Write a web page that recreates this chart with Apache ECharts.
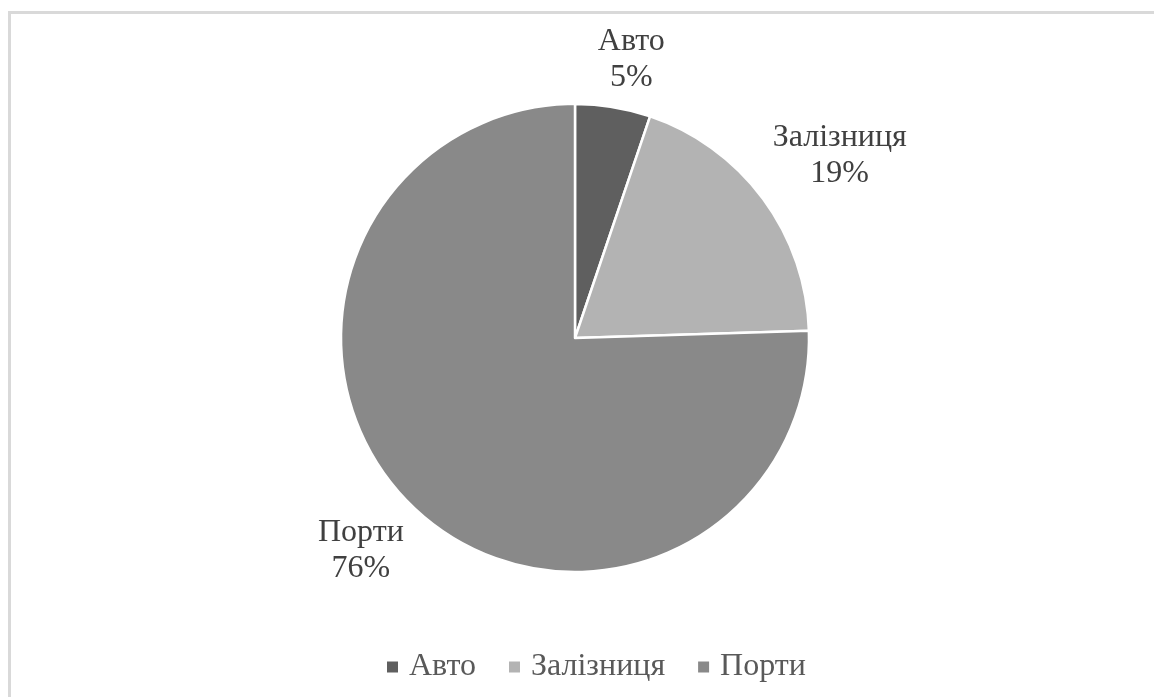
<!DOCTYPE html>
<html><head><meta charset="utf-8">
<script src="https://cdn.jsdelivr.net/npm/echarts@6/dist/echarts.min.js"></script>
<style>html,body{margin:0;padding:0;background:#fff}#c{width:1154px;height:697px}</style>
</head><body><div id="c"></div>
<script>
const categories = ['Авто', 'Залізниця', 'Порти'];
const shares = [5.2, 19.3, 75.5];
const sliceColors = ['#5f5f5f', '#b3b3b3', '#898989'];

const chart = echarts.init(document.getElementById('c'), null, {renderer: 'canvas'});
const CX = 575, CY = 338, R = 234, GAP = 12;
const total = shares.reduce((a, b) => a + b, 0);
const midAngles = [];
let acc = 0;
shares.forEach(v => { midAngles.push((acc + v / 2) / total * 2 * Math.PI); acc += v; });
const clamp1 = v => Math.max(-1, Math.min(1, v));

const option = {
  animation: false,
  graphic: [{
    type: 'rect', silent: true, z: -1,
    shape: {x: 9.5, y: 12.5, width: 1300, height: 900},
    style: {fill: 'none', stroke: '#d9d9d9', lineWidth: 3}
  }],
  legend: {
    top: 646, left: 382, itemWidth: 11, itemHeight: 11, itemGap: 33, icon: 'rect',
    itemStyle: {borderWidth: 0},
    textStyle: {fontFamily: 'Liberation Serif', fontSize: 32, color: '#595959', padding: [0, 0, 0, 6]},
    data: categories
  },
  series: [{
    type: 'pie', center: [CX, CY], radius: R, startAngle: 90, clockwise: true,
    percentPrecision: 0,
    data: categories.map((n, i) => ({name: n, value: shares[i], itemStyle: {color: sliceColors[i]}})),
    itemStyle: {borderColor: '#ffffff', borderWidth: 2.5},
    label: {
      show: true, position: 'outside', formatter: '{b}\n{d}%',
      fontFamily: 'Liberation Serif', fontSize: 32, lineHeight: 36, color: '#404040', align: 'center'
    },
    labelLine: {show: false},
    labelLayout: function (p) {
      const a = midAngles[p.dataIndex];
      const dx = Math.sin(a), dy = -Math.cos(a);
      const px = CX + (R + GAP) * dx, py = CY + (R + GAP) * dy;
      const w = p.labelRect.width, h = p.labelRect.height;
      return {
        x: px + clamp1(dx * 3) * w / 2,
        y: py + clamp1(dy * 3) * h / 2,
        align: 'center', verticalAlign: 'middle'
      };
    },
    emphasis: {disabled: true}
  }]
};
chart.setOption(option);
</script>
</body></html>
